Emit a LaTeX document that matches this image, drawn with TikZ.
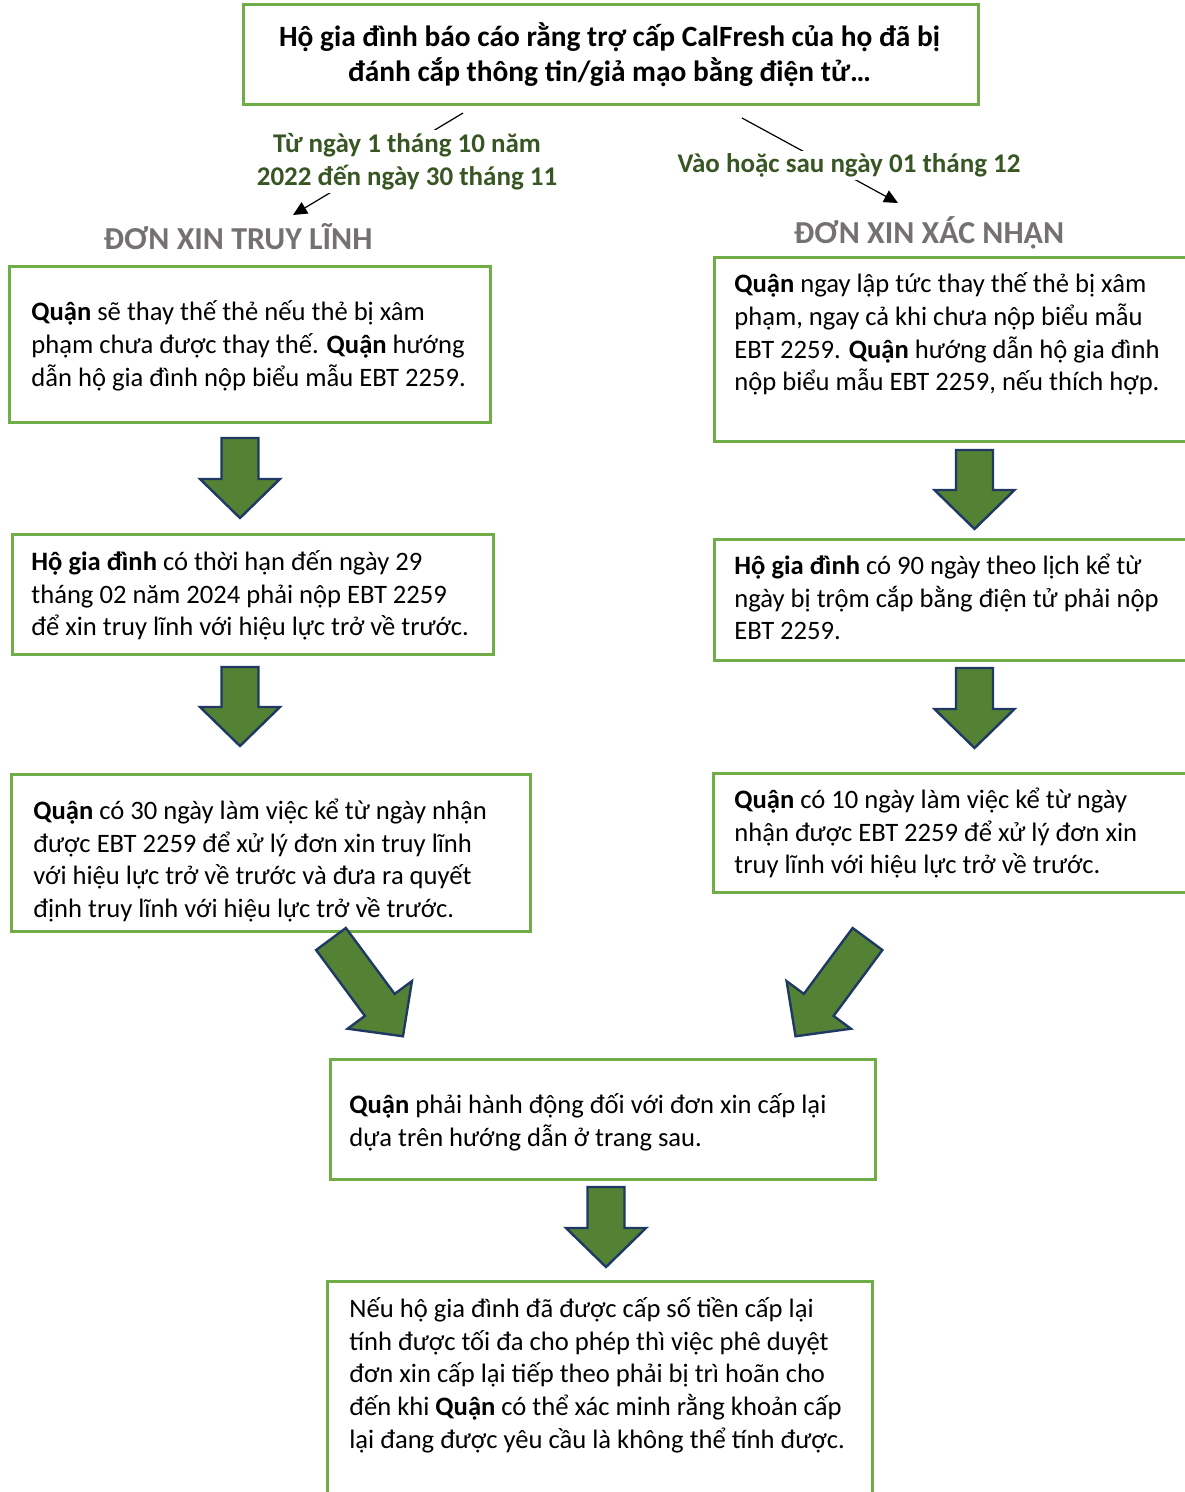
\documentclass[tikz,border=0pt]{standalone}
\usepackage{fontspec}
\setmainfont{Carlito}
\usetikzlibrary{arrows.meta}

\definecolor{boxgreen}{HTML}{70AD47}
\definecolor{arrowfill}{HTML}{548235}
\definecolor{arrowline}{HTML}{1F3864}
\definecolor{labelgreen}{HTML}{375623}
\definecolor{headgray}{HTML}{767171}

\begin{document}
\begin{tikzpicture}[x=0.5pt, y=-0.5pt,
    frame/.style={draw=boxgreen, line width=1.4pt, rectangle, inner sep=0pt, anchor=north west},
    bodytext/.style={align=left, inner sep=0pt, anchor=west, font=\fontsize{13.3}{16.35}\selectfont},
    datelabel/.style={align=center, fill=white, inner sep=1.5pt, text=labelgreen, font=\bfseries\fontsize{13.5}{16.5}\selectfont},
    header/.style={text=headgray, inner sep=0pt, font=\bfseries\fontsize{16}{19}\selectfont},
    thinarrow/.style={line width=0.6pt, -{Triangle[length=7pt, width=6.5pt]}},
    bigarrow/.style={draw=arrowline, fill=arrowfill, line width=1.2pt, line join=miter},
    pics/blockarrow/.style={code={
        \draw[bigarrow] (-18.5,0) -- (18.5,0) -- (18.5,{#1-39}) -- (40,{#1-39})
          -- (0,#1) -- (-40,{#1-39}) -- (-18.5,{#1-39}) -- cycle;
    }}]
    \useasboundingbox (0,0) rectangle (1184,1492);

    % top question
    \node[frame, minimum width=367.5pt, minimum height=50pt] (fTop) at (242,3) {};
    \node[align=center, inner sep=0pt, font=\bfseries\fontsize{14.7}{17.5}\selectfont] (tTop) at (609.5,55)
      {Hộ gia đình báo cáo rằng trợ cấp CalFresh của họ đã bị\\ đánh cắp thông tin/giả mạo bằng điện tử…};

    % the two branches
    \coordinate (fromL) at (463,113);
    \coordinate (toL) at (293,215);
    \coordinate (fromR) at (742,118);
    \coordinate (toR) at (898,203);
    \draw[thinarrow] (fromL) -- (toL);
    \draw[thinarrow] (fromR) -- (toR);

    \node[datelabel] (dateL) at (407,161.5) {Từ ngày 1 tháng 10 năm\\ 2022 đến ngày 30 tháng 11};
    \node[datelabel] (dateR) at (849,165.5) {Vào hoặc sau ngày 01 tháng 12};

    \node[header] (hdrL) at (238,237) {ĐƠN XIN TRUY LĨNH};
    \node[header] (hdrR) at (929,233) {ĐƠN XIN XÁC NHẬN};

    % left column
    \node[frame, minimum width=240.5pt, minimum height=78pt] (fL1) at (8,265) {};
    \node[bodytext] (tL1) at (31,346)
      {\textbf{Quận} sẽ thay thế thẻ nếu thẻ bị xâm\\ phạm chưa được thay thế. \textbf{Quận} hướng\\ dẫn hộ gia đình nộp biểu mẫu EBT 2259.};

    \node[frame, minimum width=240.5pt, minimum height=60pt] (fL2) at (11,533) {};
    \node[bodytext] (tL2) at (31,595.5)
      {\textbf{Hộ gia đình} có thời hạn đến ngày 29\\ tháng 02 năm 2024 phải nộp EBT 2259\\ để xin truy lĩnh với hiệu lực trở về trước.};

    \node[frame, minimum width=259.5pt, minimum height=78.5pt] (fL3) at (10,773) {};
    \node[bodytext] (tL3) at (33,860.5)
      {\textbf{Quận} có 30 ngày làm việc kể từ ngày nhận\\ được EBT 2259 để xử lý đơn xin truy lĩnh\\ với hiệu lực trở về trước và đưa ra quyết\\ định truy lĩnh với hiệu lực trở về trước.};

    % right column
    \node[frame, minimum width=240.5pt, minimum height=92pt] (fR1) at (713,256) {};
    \node[bodytext] (tR1) at (734,334)
      {\textbf{Quận} ngay lập tức thay thế thẻ bị xâm\\ phạm, ngay cả khi chưa nộp biểu mẫu\\ EBT 2259. \textbf{Quận} hướng dẫn hộ gia đình\\ nộp biểu mẫu EBT 2259, nếu thích hợp.};

    \node[frame, minimum width=240.5pt, minimum height=60.5pt] (fR2) at (713,538) {};
    \node[bodytext] (tR2) at (734,597)
      {\textbf{Hộ gia đình} có 90 ngày theo lịch kể từ\\ ngày bị trộm cắp bằng điện tử phải nộp\\ EBT 2259.};

    \node[frame, minimum width=241pt, minimum height=59.5pt] (fR3) at (712,772) {};
    \node[bodytext] (tR3) at (734,833)
      {\textbf{Quận} có 10 ngày làm việc kể từ ngày\\ nhận được EBT 2259 để xử lý đơn xin\\ truy lĩnh với hiệu lực trở về trước.};

    % bottom
    \node[frame, minimum width=272.5pt, minimum height=60pt] (fB1) at (329,1058) {};
    \node[bodytext] (tB1) at (349,1122)
      {\textbf{Quận} phải hành động đối với đơn xin cấp lại\\ dựa trên hướng dẫn ở trang sau.};

    \node[frame, minimum width=272.5pt, minimum height=115pt] (fB2) at (326,1280) {};
    \node[bodytext] (tB2) at (349,1375)
      {Nếu hộ gia đình đã được cấp số tiền cấp lại\\ tính được tối đa cho phép thì việc phê duyệt\\ đơn xin cấp lại tiếp theo phải bị trì hoãn cho\\ đến khi \textbf{Quận} có thể xác minh rằng khoản cấp\\ lại đang được yêu cầu là không thể tính được.};

    % block arrows
    \pic at (240,438) {blockarrow=80};
    \pic at (240,667) {blockarrow=79};
    \pic at (974.5,450) {blockarrow=79};
    \pic at (974.5,668) {blockarrow=80};
    \pic[rotate=36.5] at (331,939) {blockarrow=121};
    \pic[rotate=-36.5] at (867.5,939) {blockarrow=121};
    \pic at (606,1187) {blockarrow=80};
\end{tikzpicture}
\end{document}
